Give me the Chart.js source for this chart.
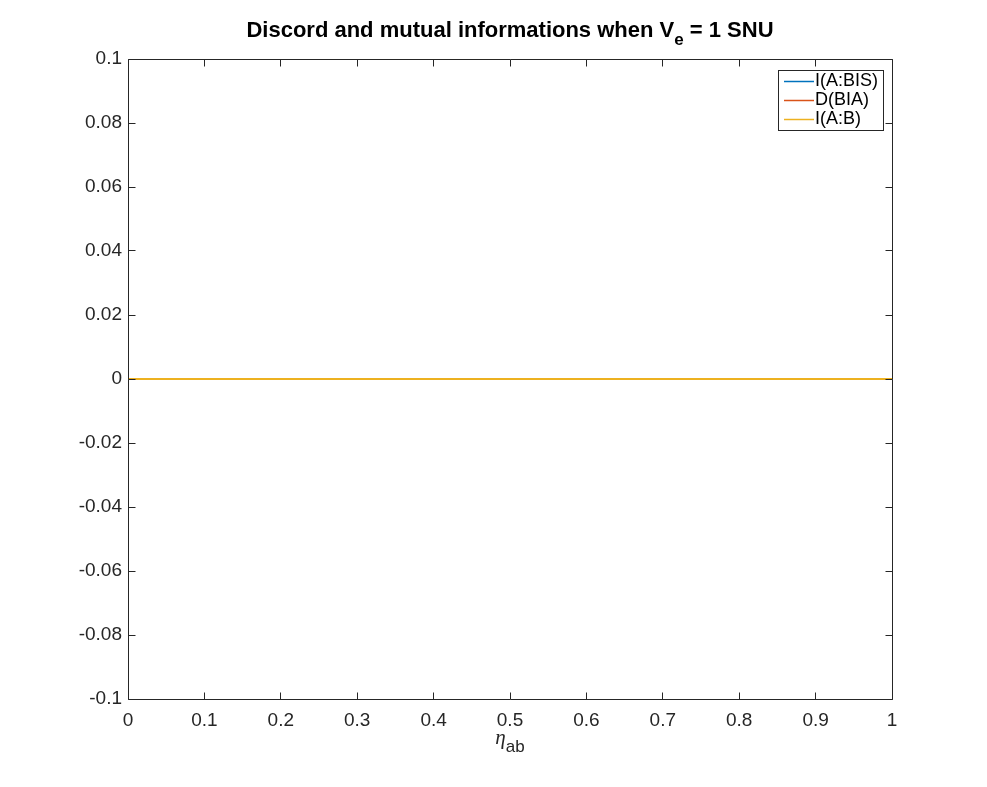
<!DOCTYPE html>
<html lang="en">
<head>
<meta charset="UTF-8">
<script src="https://cdn.jsdelivr.net/npm/chart.js"></script>
<title>Discord</title>
<style>
    body { margin: 0; background: #fff; }
    #wrap { position: relative; width: 987px; height: 787px; }
    #titulo { position: absolute; left: 128px; width: 764px; top: 17px; text-align: center;
        font: bold 22px "Liberation Sans", Arial, sans-serif; color: #000; }
    #titulo sub { font-size: 17px; vertical-align: -8px; line-height: 0; }
    #xlabel { position: absolute; left: 128px; width: 764px; top: 725px; text-align: center;
        font: 17px "Liberation Sans", Arial, sans-serif; color: #262626; }
    #xlabel i { font: italic 21px "Liberation Serif", "DejaVu Serif", serif; }
    #xlabel sub { font-size: 17px; vertical-align: -8px; line-height: 0; }
</style>
</head>
<body>
<div id="wrap">
    <canvas id="grafico" width="987" height="787"></canvas>
    <div id="titulo">Discord and mutual informations when V<sub>e</sub> = 1 SNU</div>
    <div id="xlabel"><i>&eta;</i><sub>ab</sub></div>
</div>
<script>
    // dados do gráfico (todas as curvas ficam em zero)
    var eta = [0, 0.1, 0.2, 0.3, 0.4, 0.5, 0.6, 0.7, 0.8, 0.9, 1];
    var infoABS = [0, 0, 0, 0, 0, 0, 0, 0, 0, 0, 0];
    var discordBA = [0, 0, 0, 0, 0, 0, 0, 0, 0, 0, 0];
    var infoAB = [0, 0, 0, 0, 0, 0, 0, 0, 0, 0, 0];
    var nomes = ['I(A:BIS)', 'D(BIA)', 'I(A:B)'];
    var cores = ['#0072BD', '#D95319', '#EDB120'];

    function pontos(ys) {
        return eta.map((x, i) => ({ x: x, y: ys[i] }));
    }

    var fonte = '"Liberation Sans", Arial, sans-serif';

    // caixa com ticks para dentro + legenda estilo matlab
    var caixa = {
        id: 'caixa',
        afterDraw(chart) {
            var c = chart.ctx, a = chart.chartArea;
            var sx = chart.scales.x, sy = chart.scales.y;
            var l = Math.floor(a.left) + 0.5, r = Math.floor(a.right) + 0.5;
            var t0 = Math.floor(a.top) + 0.5, b = Math.floor(a.bottom) + 0.5;
            c.save();
            c.strokeStyle = '#262626';
            c.lineWidth = 1;
            c.beginPath();
            c.rect(l, t0, r - l, b - t0);
            sx.ticks.forEach(t => {
                var px = Math.floor(sx.getPixelForValue(t.value)) + 0.5;
                c.moveTo(px, b); c.lineTo(px, b - 7);
                c.moveTo(px, t0); c.lineTo(px, t0 + 7);
            });
            sy.ticks.forEach(t => {
                var py = Math.floor(sy.getPixelForValue(t.value)) + 0.5;
                c.moveTo(l, py); c.lineTo(l + 7, py);
                c.moveTo(r, py); c.lineTo(r - 7, py);
            });
            c.stroke();

            // legenda
            var lx = 778, ly = 70, lw = 105, lh = 60;
            c.fillStyle = '#fff';
            c.fillRect(lx, ly, lw, lh);
            c.strokeStyle = '#262626';
            c.strokeRect(lx + 0.5, ly + 0.5, lw, lh);
            c.font = '18px ' + fonte;
            c.textBaseline = 'middle';
            chart.data.datasets.forEach((d, i) => {
                var y = ly + 11 + i * 19;
                c.strokeStyle = d.borderColor;
                c.lineWidth = 1.5;
                c.beginPath();
                c.moveTo(lx + 6, y + 0.5); c.lineTo(lx + 36, y + 0.5);
                c.stroke();
                c.fillStyle = '#000';
                c.fillText(d.label, lx + 37, y);
            });
            c.restore();
        }
    };

    var formato = v => {
        var n = parseFloat(Number(v).toFixed(2));
        return n === 0 ? '0' : String(n);
    };

    // order: a última série (amarela) fica por cima, como no matlab
    new Chart(document.getElementById('grafico'), {
        type: 'line',
        data: {
            datasets: [
                { label: nomes[0], data: pontos(infoABS), borderColor: cores[0], borderWidth: 2, pointRadius: 0, fill: false, order: 2 },
                { label: nomes[1], data: pontos(discordBA), borderColor: cores[1], borderWidth: 2, pointRadius: 0, fill: false, order: 1 },
                { label: nomes[2], data: pontos(infoAB), borderColor: cores[2], borderWidth: 2, pointRadius: 0, fill: false, order: 0 }
            ]
        },
        options: {
            responsive: false,
            animation: false,
            layout: { padding: { left: 0, top: 59, right: 95, bottom: 0 } },
            plugins: { legend: { display: false }, title: { display: false }, tooltip: { enabled: false } },
            scales: {
                x: {
                    type: 'linear', min: 0, max: 1,
                    grid: { display: false }, border: { display: false },
                    ticks: { stepSize: 0.1, padding: 2, maxRotation: 0, color: '#262626', font: { family: fonte, size: 19 }, callback: formato },
                    afterFit(s) { s.height = 88; }
                },
                y: {
                    min: -0.1, max: 0.1,
                    grid: { display: false, drawTicks: false }, border: { display: false },
                    ticks: { stepSize: 0.02, padding: 6, color: '#262626', font: { family: fonte, size: 19 }, callback: formato },
                    afterFit(s) { s.width = 128; }
                }
            }
        },
        plugins: [caixa]
    });
</script>
</body>
</html>
